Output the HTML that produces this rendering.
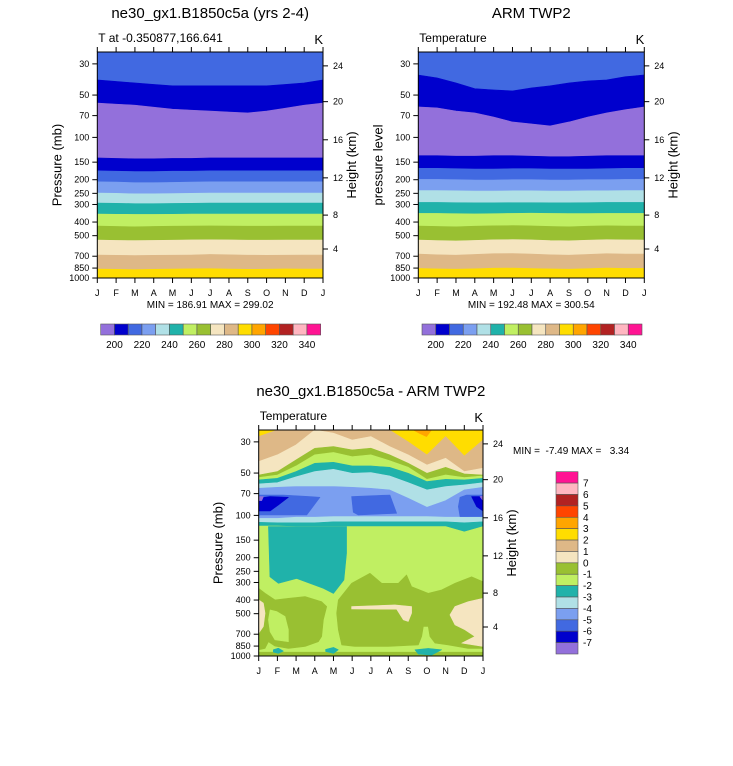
<!DOCTYPE html>
<html><head><meta charset="utf-8">
<style>
html,body{margin:0;padding:0;background:#fff;}
svg{display:block;font-family:"Liberation Sans",Arial,sans-serif;}
</style></head>
<body>
<svg id="chart" width="733" height="766" viewBox="0 0 733 766" xmlns="http://www.w3.org/2000/svg">
<rect x="0" y="0" width="733" height="766" fill="#fff"/>
</svg>
<script>
// ---------- data ----------
const months = ['J','F','M','A','M','J','J','A','S','O','N','D','J'];
const pTicks = [30,50,70,100,150,200,250,300,400,500,700,850,1000];
const hTickLabels = [24,20,16,12,8,4];
const hTickP = [31,55.7,104,194,357,622];
const colors = ['#9370DB','#0000CD','#4169E1','#7B9FF0','#B0E0E6','#20B2AA','#C0EF62','#99C032','#F5E5C0','#DEB887','#FFDD00','#FFA500','#FF4500','#B22222','#FFB6C1','#FF1493'];
const absLabels = [200,220,240,260,280,300,320,340];
const diffLabels = [7,6,5,4,3,2,1,0,-1,-2,-3,-4,-5,-6,-7];

const modelBandColors = [2,1,0,1,2,3,4,5,6,7,8,9,10];
const modelB1 = [39,40,41,42,43,43,43,43,43,43,42,41,39];
const modelB2 = [57,58,59,61,63,64,65,66,67,65,62,59,57];
const modelB3 = [140,141,142,142,141,141,140,140,140,140,140,140,140];
const modelB4 = [173,174,175,175,174,174,173,173,173,173,173,173,173];
const modelB5 = [207,208,210,210,209,208,207,207,207,207,207,207,207];
const modelB6 = [249,250,252,252,251,250,249,249,249,249,249,249,249];
const modelB7 = [293,294,296,296,295,294,293,293,293,293,293,293,293];
const modelB8 = [351,352,353,353,352,351,351,351,351,351,351,351,351];
const modelB9 = [427,430,432,430,428,427,426,427,428,428,427,427,427];
const modelB10 = [537,540,542,540,538,536,535,536,538,538,537,537,537];
const modelB11 = [687,690,692,690,688,686,680,684,688,690,688,687,687];
const modelB12 = [864,868,872,868,864,860,858,864,868,866,862,864,864];

const armBandColors = [2,1,0,1,2,3,4,5,6,7,8,9,10];
const armB1 = [36,37.8,41,45,46,46.7,44.5,43,41,39.7,39,37,36];
const armB2 = [60.7,61.7,64.9,67,71.6,77.7,80.2,82.9,77.7,71.6,67,63.5,60.7];
const armB3 = [135,135,136,136,135,135,136,137,137,136,135,135,135];
const armB4 = [166,166,167,168,168,167,167,168,168,168,167,166,166];
const armB5 = [199,199,200,201,201,200,200,201,201,200,200,199,199];
const armB6 = [239,239,240,241,241,240,240,241,241,240,240,239,239];
const armB7 = [290,290,291,292,292,291,291,292,292,291,290,290,290];
const armB8 = [347,347,349,350,349,347,346,347,348,348,347,347,347];
const armB9 = [427,430,432,428,425,424,426,430,432,428,425,427,427];
const armB10 = [537,542,545,540,535,533,536,542,544,538,534,536,537];
const armB11 = [676,684,688,680,672,670,676,684,688,680,672,676,676];
const armB12 = [855,862,866,860,852,850,856,862,866,858,850,855,855];

const diffBandColors = [10,9,8,7,6,5,4,3,4,5,6];
const diffC1 = [27.5,24.7,24.7,24.7,24.7,24.7,24.7,24.7,30,37.1,27.5,37.8,29.1];
const diffC2 = [41.4,37.1,31.5,24.7,26.0,29.1,27.5,32.4,37.1,43.8,39.2,48.8,46.2];
const diffC3 = [51.6,48.8,40.3,33.3,32.4,34.2,33.3,37.1,42.6,50.2,45.5,50.7,51.6];
const diffC4 = [53.8,51.6,44.5,37.1,35.7,38.2,37.1,40.8,45.5,55.4,51.6,53.8,52.4];
const diffC5 = [56.0,54.5,48.8,42.6,41.9,44.5,44.5,45.5,50.2,57.5,55.4,56.0,54.5];
const diffC6 = [59.7,58.5,53.2,48.8,47.0,50.2,49.6,52.4,58.5,65.9,62.4,60.7,58.5];
const diffC7 = [64.2,63.1,62.4,62.4,62.4,63.1,64.2,65.9,75.5,87.6,78.5,65.9,63.1];
const diffC8 = [105,105,103,103,102,102,102,102,102,102,103,103,102];
const diffC9 = [112,113,113,113,111,111,111,111,111,111,111,113,111];
const diffC10 = [119,119,120,120,120,120,120,120,120,120,120,131,120];

const blobNames = ['orange-top','blue-left','dblue-left','purple-left','blue-mid','blue-right','dblue-right','purple-right','seagreen-upper-trop','ygreen-left','lgreen-hole-left','ygreen-right','wheat-mid','wheat-right','wheat-left','ygreen-surface','seagreen-sfc-feb','seagreen-sfc-may','seagreen-sfc-oct'];
const blobColors = [11,2,1,0,2,2,1,0,5,7,6,7,8,8,8,7,5,5,5];
const blobM = [
 [8.27,9.25,8.98,8.63],
 [0,1.32,2.74,3.28,2.57,0],
 [0,0.61,1.59,1.05,0.61,0],
 [0,0.25,0.16,0],
 [4.97,7.02,7.38,5.33,5.06],
 [10.77,11.12,12,12,10.77,10.68],
 [11.39,12,12,11.66],
 [11.84,12,12],
 [0.52,4.7,4.7,4.56,4.0,3.46,2.03,1.05,0.6],
 [0,0.34,0.87,1.59,2.48,3.37,3.64,3.46,3.37,3.19,2.48,1.59,0.87,0.52,0.34,0],
 [0.61,0.96,1.41,1.59,1.59,0.87,0.61,0.52],
 [4.26,4.97,5.95,6.58,7.47,7.91,8.18,9.07,9.79,10.5,11.39,12,12,11.21,10.14,9.43,9.16,9.07,8.81,8.72,8.54,6.93,5.15,4.44,4.26,4.17],
 [4.97,7.29,8.18,8.18,8.0,7.74,7.38,4.97],
 [12,11.21,10.5,10.23,10.5,11.03,11.57,10.86,12],
 [0,0.25,0.34,0.25,0],
 [0,12,12,0],
 [0.78,1.05,1.32,1.05,0.78],
 [3.58,4.0,4.26,4.0,3.58],
 [8.36,9.07,9.79,9.25,8.54]
];
const blobP = [
 [24.7,24.7,27.5,26.2],
 [71.6,71.6,73.5,74.3,99.3,99.3],
 [75.5,73.5,74.3,84.3,93,93],
 [73.5,73.5,78.5,78.5],
 [73.5,71.6,96.6,99.3,95],
 [74.3,71.6,71.6,102,102,86.6],
 [73.5,73.5,93,86.6],
 [73.5,72.8,78.5],
 [120,120,186,288,359,330,281,304,273],
 [330,358,399,389,378,411,445,553,726,792,855,883,850,792,883,903],
 [470,483,524,651,792,767,672,553],
 [399,304,258,304,304,265,321,358,339,304,273,296,883,883,834,810,726,617,617,726,834,855,855,834,651,496],
 [445,433,445,496,568,553,465,463],
 [389,411,445,510,600,651,726,810,855],
 [399,421,496,617,688],
 [940,940,1000,1000],
 [903,879,923,958,938],
 [898,869,903,958,928],
 [903,883,903,985,969]
];

// ---------- helpers ----------
const NS = 'http://www.w3.org/2000/svg';
const svg = document.getElementById('chart');
const P_TOP = 24.7;
function mk(tag, attrs, parent){
  const e = document.createElementNS(NS, tag);
  for (const k in attrs) e.setAttribute(k, attrs[k]);
  (parent||svg).appendChild(e);
  return e;
}
function xs(P, m){ return P.x0 + m/12*(P.x1-P.x0); }
function ys(P, p){ return P.y0 + (Math.log10(p)-Math.log10(P_TOP))/(3-Math.log10(P_TOP))*(P.y1-P.y0); }

function drawBands(P, g, curves, bandColors, prefix){
  const topC = months.map(()=>P_TOP);
  const botC = months.map(()=>1000);
  const all = [topC].concat(curves).concat([botC]);
  for (let k=0;k<bandColors.length;k++){
    const up = all[k], lo = all[k+1];
    let pts = [];
    for (let i=0;i<up.length;i++) pts.push(xs(P,i).toFixed(2)+','+ys(P,up[i]).toFixed(2));
    for (let i=lo.length-1;i>=0;i--) pts.push(xs(P,i).toFixed(2)+','+ys(P,lo[i]).toFixed(2));
    const poly = mk('polygon',{points:pts.join(' '),fill:colors[bandColors[k]],stroke:colors[bandColors[k]],'stroke-width':0.6},g);
    
    
  }
}

function drawAxes(P, prefix, leftTitle){
  const frame = mk('rect',{x:P.x0,y:P.y0,width:P.x1-P.x0,height:P.y1-P.y0,fill:'none',stroke:'#000','stroke-width':1});
  
  
  for (let i=0;i<months.length;i++){
    const x = xs(P,i);
    const t1 = mk('line',{x1:x,x2:x,y1:P.y1,y2:P.y1+5,stroke:'#000','stroke-width':1});
    
    
    const t2 = mk('line',{x1:x,x2:x,y1:P.y0,y2:P.y0-5,stroke:'#000','stroke-width':1});
    
    
    const lb = mk('text',{x:x,y:P.y1+18,'font-size':9,'text-anchor':'middle',fill:'#000'});
    lb.textContent = months[i];
    
    
  }
  for (let j=0;j<pTicks.length;j++){
    const y = ys(P,pTicks[j]);
    const t = mk('line',{x1:P.x0-5,x2:P.x0,y1:y,y2:y,stroke:'#000','stroke-width':1});
    
    
    const lb = mk('text',{x:P.x0-8,y:y+3,'font-size':9,'text-anchor':'end',fill:'#000'});
    lb.textContent = pTicks[j];
    
    
  }
  for (let j=0;j<hTickP.length;j++){
    const y = ys(P,hTickP[j]);
    const t = mk('line',{x1:P.x1,x2:P.x1+5,y1:y,y2:y,stroke:'#000','stroke-width':1});
    
    
    const lb = mk('text',{x:P.x1+10,y:y+3,'font-size':9,'text-anchor':'start',fill:'#000'});
    lb.textContent = hTickLabels[j];
    
    
  }
  const cy = (P.y0+P.y1)/2;
  const lt = mk('text',{x:P.x0-36,y:cy,'font-size':13,'text-anchor':'middle',transform:'rotate(-90 '+(P.x0-36)+' '+cy+')',fill:'#000'});
  lt.textContent = leftTitle;
  
  
  const rt = mk('text',{x:P.x1+33,y:cy,'font-size':13,'text-anchor':'middle',transform:'rotate(-90 '+(P.x1+33)+' '+cy+')',fill:'#000'});
  rt.textContent = 'Height (km)';
  
  
}

function panel(P, prefix, title, sub, leftTitle){
  const cp = mk('clipPath',{id:prefix+'-clip'});
  mk('rect',{x:P.x0,y:P.y0,width:P.x1-P.x0,height:P.y1-P.y0},cp);
  const g = mk('g',{'clip-path':'url(#'+prefix+'-clip)'});
  
  
  const tt = mk('text',{x:(P.x0+P.x1)/2,y:P.y0-34,'font-size':15,'text-anchor':'middle',fill:'#000'});
  tt.textContent = title;
  
  
  const st = mk('text',{x:P.x0+1,y:P.y0-10,'font-size':12,'text-anchor':'start',fill:'#000'});
  st.textContent = sub;
  
  
  const un = mk('text',{x:P.x1,y:P.y0-8,'font-size':13,'text-anchor':'end',fill:'#000'});
  un.textContent = 'K';
  
  
  return g;
}

function hColorbar(x0, x1, y0, y1, prefix){
  const w = (x1-x0)/colors.length;
  for (let k=0;k<colors.length;k++){
    const r = mk('rect',{x:x0+k*w,y:y0,width:w,height:y1-y0,fill:colors[k],stroke:'#555','stroke-width':0.6});
    
    
  }
  for (let j=0;j<absLabels.length;j++){
    const t = mk('text',{x:x0+(1+2*j)*w,y:y1+13,'font-size':10,'text-anchor':'middle',fill:'#000'});
    t.textContent = absLabels[j];
    
    
  }
}

// ---------- panels ----------
const P1 = {x0:97.3,x1:323,y0:52,y1:278};
const P2 = {x0:418.3,x1:644.3,y0:52,y1:278};
const P3 = {x0:258.7,x1:483,y0:430,y1:656};

const g1 = panel(P1,'model','ne30_gx1.B1850c5a (yrs 2-4)','T at -0.350877,166.641','Pressure (mb)');
drawBands(P1,g1,[modelB1,modelB2,modelB3,modelB4,modelB5,modelB6,modelB7,modelB8,modelB9,modelB10,modelB11,modelB12],modelBandColors,'model');
drawAxes(P1,'model','Pressure (mb)');
const mm1 = mk('text',{x:(P1.x0+P1.x1)/2,y:308,'font-size':10,'text-anchor':'middle',fill:'#000'});
mm1.textContent = 'MIN = 186.91 MAX = 299.02';


hColorbar(100.7,320.7,324,335,'model');

const g2 = panel(P2,'arm','ARM TWP2','Temperature','pressure level');
drawBands(P2,g2,[armB1,armB2,armB3,armB4,armB5,armB6,armB7,armB8,armB9,armB10,armB11,armB12],armBandColors,'arm');
drawAxes(P2,'arm','pressure level');
const mm2 = mk('text',{x:(P2.x0+P2.x1)/2,y:308,'font-size':10,'text-anchor':'middle',fill:'#000'});
mm2.textContent = 'MIN = 192.48 MAX = 300.54';


hColorbar(422,642,324,335,'arm');

const g3 = panel(P3,'diff','ne30_gx1.B1850c5a - ARM TWP2','Temperature','Pressure (mb)');
drawBands(P3,g3,[diffC1,diffC2,diffC3,diffC4,diffC5,diffC6,diffC7,diffC8,diffC9,diffC10],diffBandColors,'diff');
for (let b=0;b<blobM.length;b++){
  const pts = blobM[b].map((m,i)=>xs(P3,m).toFixed(2)+','+ys(P3,blobP[b][i]).toFixed(2)).join(' ');
  const poly = mk('polygon',{points:pts,fill:colors[blobColors[b]],stroke:colors[blobColors[b]],'stroke-width':0.6,'stroke-linejoin':'round'},g3);
  
  
}
drawAxes(P3,'diff','Pressure (mb)');
const mm3 = mk('text',{x:513,y:454,'font-size':10,'text-anchor':'start',fill:'#000',style:'white-space:pre'});
mm3.textContent = 'MIN =  -7.49 MAX =   3.34';


const vb = {x0:556,x1:578,y0:471.7,y1:654};
const vh = (vb.y1-vb.y0)/colors.length;
for (let k=0;k<colors.length;k++){
  const r = mk('rect',{x:vb.x0,y:vb.y0+k*vh,width:vb.x1-vb.x0,height:vh,fill:colors[colors.length-1-k],stroke:'#555','stroke-width':0.6});
  
  
}
for (let j=0;j<diffLabels.length;j++){
  const t = mk('text',{x:vb.x1+5,y:vb.y0+(j+1)*vh+3.5,'font-size':10,'text-anchor':'start',fill:'#000'});
  t.textContent = diffLabels[j];
  
  
}
</script>
</body></html>
